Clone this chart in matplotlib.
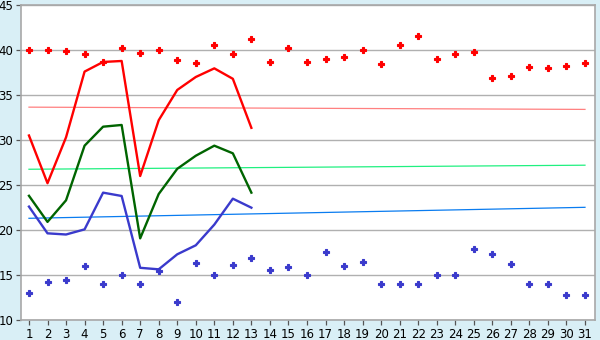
import matplotlib
matplotlib.use("Agg")
import matplotlib.pyplot as plt

days = list(range(1, 32))
max_pts = [40.0, 40.0, 39.9, 39.56, 38.7, 40.2, 39.7, 40.0, 38.85, 38.6, 40.56, 39.56, 41.2,
           38.63, 40.2, 38.63, 38.96, 39.19, 39.96, 38.5, 40.56, 41.52, 38.96, 39.52, 39.74,
           36.85, 37.07, 38.07, 37.96, 38.19, 38.52]
min_pts = [13.0, 14.2, 14.4, 16.0, 14.0, 15.0, 14.0, 15.4, 12.0, 16.3, 15.0, 16.07, 16.85,
           15.52, 15.85, 15.0, 17.52, 15.96, 16.41, 14.0, 14.0, 14.0, 15.0, 15.0, 17.85,
           17.3, 16.19, 14.0, 14.0, 12.74, 12.74]
line_days = list(range(1, 14))
red_line = [30.5, 25.2, 30.3, 37.6, 38.67, 38.78, 26.0, 32.2, 35.56, 37.0, 37.96, 36.8, 31.35]
green_line = [23.8, 20.9, 23.3, 29.37, 31.48, 31.67, 19.07, 24.0, 26.8, 28.25, 29.37, 28.52, 24.15]
blue_line = [22.6, 19.63, 19.5, 20.07, 24.15, 23.78, 15.8, 15.63, 17.3, 18.3, 20.6, 23.48, 22.48]
trend_days = [1, 31]
red_trend = [33.65, 33.4]
green_trend = [26.75, 27.2]
blue_trend = [21.3, 22.52]

bg = "#d9eff6"
fig = plt.figure(figsize=(6, 3.4), dpi=100, facecolor=bg)
ax = fig.add_axes([21/600, 20/340, 574/600, 315/340])
ax.set_facecolor("white")

ax.plot(trend_days, red_trend, color="#ff8080", lw=0.9, zorder=2)
ax.plot(trend_days, green_trend, color="#20f080", lw=0.9, zorder=2)
ax.plot(trend_days, blue_trend, color="#0a7cf0", lw=0.9, zorder=2)

ax.plot(line_days, red_line, color="#ff0000", lw=1.7, zorder=3)
ax.plot(line_days, green_line, color="#006400", lw=1.7, zorder=3)
ax.plot(line_days, blue_line, color="#3a3acc", lw=1.7, zorder=3)

ax.plot(days, max_pts, linestyle="none", marker="P", markersize=4.5,
        color="#ff0000", markeredgecolor="#ff0000", markeredgewidth=0.8, zorder=4)
ax.plot(days, min_pts, linestyle="none", marker="P", markersize=4.5,
        color="#3a3acc", markeredgecolor="#3a3acc", markeredgewidth=0.8, zorder=4)

ax.set_xlim(0.57, 31.54)
ax.set_ylim(10, 45)
ax.set_xticks(days)
ax.set_xticklabels([str(d) for d in days])
ax.set_yticks(range(10, 46, 5))
ax.yaxis.grid(True, color="#b0b0b0", lw=1)
ax.set_axisbelow(True)
for s in ax.spines.values():
    s.set_color("#a8a8a8")
    s.set_linewidth(1.2)
ax.tick_params(axis="both", colors="#000000", labelsize=8.5, length=3.5, width=0.9,
               direction="out", pad=2)
ax.tick_params(axis="both", color="#555555")

fig.savefig("out.png", dpi=100, facecolor=bg)
